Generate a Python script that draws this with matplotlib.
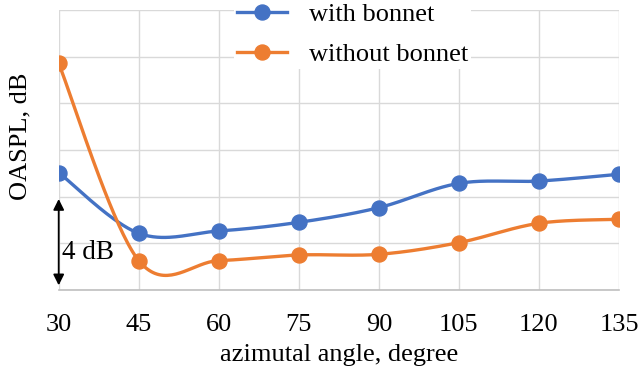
import matplotlib
matplotlib.use('Agg')
from matplotlib import pyplot as plt
import numpy as np

angles = [30, 45, 60, 75, 90, 105, 120, 135]
with_bonnet = [5.03, 2.43, 2.53, 2.90, 3.53, 4.57, 4.67, 4.96]
without_bonnet = [9.71, 1.26, 1.26, 1.50, 1.53, 2.03, 2.86, 3.03]

BLUE = '#4472C4'
ORANGE = '#ED7D31'

plt.rcParams['font.family'] = ['Liberation Serif', 'DejaVu Serif']


def smooth(x, y, n=40):
    # Excel-like smoothed line: cubic bezier through points (Catmull-Rom tangents)
    p = np.column_stack([x, y]).astype(float)
    p_ext = np.vstack([p[0], p, p[-1]])
    out = []
    t = np.linspace(0, 1, n)[:, None]
    for i in range(len(p) - 1):
        p0, p1, p2, p3 = p_ext[i], p_ext[i + 1], p_ext[i + 2], p_ext[i + 3]
        c1 = p1 + (p2 - p0) / 6
        c2 = p2 - (p3 - p1) / 6
        seg = ((1 - t) ** 3) * p1 + 3 * ((1 - t) ** 2) * t * c1 \
            + 3 * (1 - t) * t ** 2 * c2 + t ** 3 * p2
        out.append(seg if i == 0 else seg[1:])
    out = np.vstack(out)
    return out[:, 0], out[:, 1]


fig = plt.figure(figsize=(6.41, 3.73), dpi=100)
ax = fig.add_axes([58.7 / 641, 1 - 290 / 373, (619 - 58.7) / 641, 280 / 373])

for vals, col, lab in [(with_bonnet, BLUE, 'with bonnet'),
                       (without_bonnet, ORANGE, 'without bonnet')]:
    sx, sy = smooth(angles, vals)
    ax.plot(sx, sy, color=col, lw=2.4, zorder=3, solid_capstyle='round')
    ax.plot(angles, vals, 'o', color=col, ms=10.8, zorder=4)
    ax.plot([], [], '-o', color=col, lw=2.4, ms=10.8, label=lab)

ax.set_xlim(30, 135)
ax.set_ylim(0, 12)
ax.set_xticks(angles)
ax.set_yticks(np.arange(0, 13, 2))
ax.set_yticklabels([])
ax.grid(True, color='#d9d9d9', lw=1)
ax.set_axisbelow(True)
for s in ['top', 'right', 'left']:
    ax.spines[s].set_visible(False)
ax.spines['bottom'].set_color('#bfbfbf')
ax.spines['bottom'].set_linewidth(1.2)
ax.tick_params(axis='both', length=0, labelsize=19, pad=17)
ax.set_xticklabels([str(a) for a in angles])

# 4 dB scale arrow
ax.annotate('', xy=(30, 0.2), xytext=(30, 3.9),
            arrowprops=dict(arrowstyle='<|-|>', color='black', lw=1.3,
                            mutation_scale=16, shrinkA=0, shrinkB=0),
            annotation_clip=False, zorder=5)
ax.text(30.6, 1.6, '4 dB', fontsize=19.5, va='center', ha='left', zorder=5)

fig.text(339.5 / 641, 1 - 355 / 373, 'azimutal angle, degree',
         fontsize=19, ha='center', va='center')
fig.text(20 / 641, 1 - 136 / 373, 'OASPL, dB', fontsize=19,
         ha='center', va='center', rotation=90)

leg = ax.legend(loc='upper left', bbox_to_anchor=(234 / 641, 1.0),
                bbox_transform=fig.transFigure, fontsize=19, frameon=True,
                facecolor='white', edgecolor='none', framealpha=1,
                handlelength=1.9, handletextpad=0.85, labelspacing=0.62,
                borderpad=0.1, borderaxespad=0)
leg.set_zorder(6)

fig.savefig('out.png', dpi=100)
